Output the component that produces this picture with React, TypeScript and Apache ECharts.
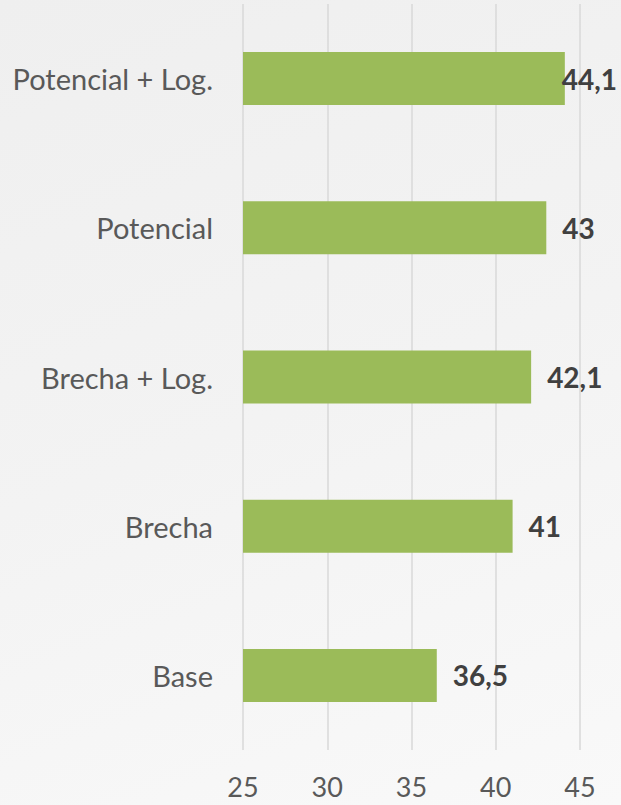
import React, { useEffect, useRef } from "react";
import * as echarts from "echarts";

const categories = ["Potencial + Log.", "Potencial", "Brecha + Log.", "Brecha", "Base"];
const values = [44.1, 43, 42.1, 41, 36.5];
const axisMin = 25;
const axisMax = 45;
const axisInterval = 5;

export default function App() {
  const ref = useRef<HTMLDivElement>(null);
  useEffect(() => {
    if (!ref.current) return;
    const chart = echarts.init(ref.current, undefined, { renderer: "svg" });
    const font = "Lato, 'Liberation Sans', sans-serif";
    chart.setOption({
      animation: false,
      backgroundColor: "transparent",
      grid: { left: 243, right: 41, top: 4, bottom: 55, containLabel: false },
      xAxis: {
        type: "value",
        min: axisMin,
        max: axisMax,
        interval: axisInterval,
        axisLine: { show: false },
        axisTick: { show: false },
        axisLabel: {
          color: "#595959",
          fontSize: 27,
          lineHeight: 24,
          fontFamily: font,
          margin: 24,
        },
        splitLine: { show: true, lineStyle: { color: "#d9d9d9", width: 1.5 } },
      },
      yAxis: {
        type: "category",
        data: categories,
        inverse: true,
        axisLine: { show: false },
        axisTick: { show: false },
        axisLabel: { color: "#595959", fontSize: 29, fontFamily: font, margin: 30 },
        splitLine: { show: false },
      },
      series: [
        {
          type: "bar",
          data: values.map((v, i) =>
            i === 0 ? { value: v, label: { distance: -3 } } : { value: v }
          ),
          barCategoryGap: "64.5%",
          itemStyle: { color: "#9bbb59" },
          label: {
            show: true,
            position: "right",
            distance: 16,
            color: "#404040",
            fontSize: 28,
            fontWeight: "bold",
            fontFamily: font,
            formatter: (p: any) => String(p.value).replace(".", ","),
          },
        },
      ],
    });
    return () => chart.dispose();
  }, []);
  return (
    <div
      style={{
        position: "fixed",
        left: 0,
        top: 0,
        width: 621,
        height: 805,
        background: "linear-gradient(160deg, #efefef 0%, #f3f3f3 50%, #f9f9f9 100%)",
      }}
    >
      <div ref={ref} style={{ width: 621, height: 805 }} />
    </div>
  );
}
